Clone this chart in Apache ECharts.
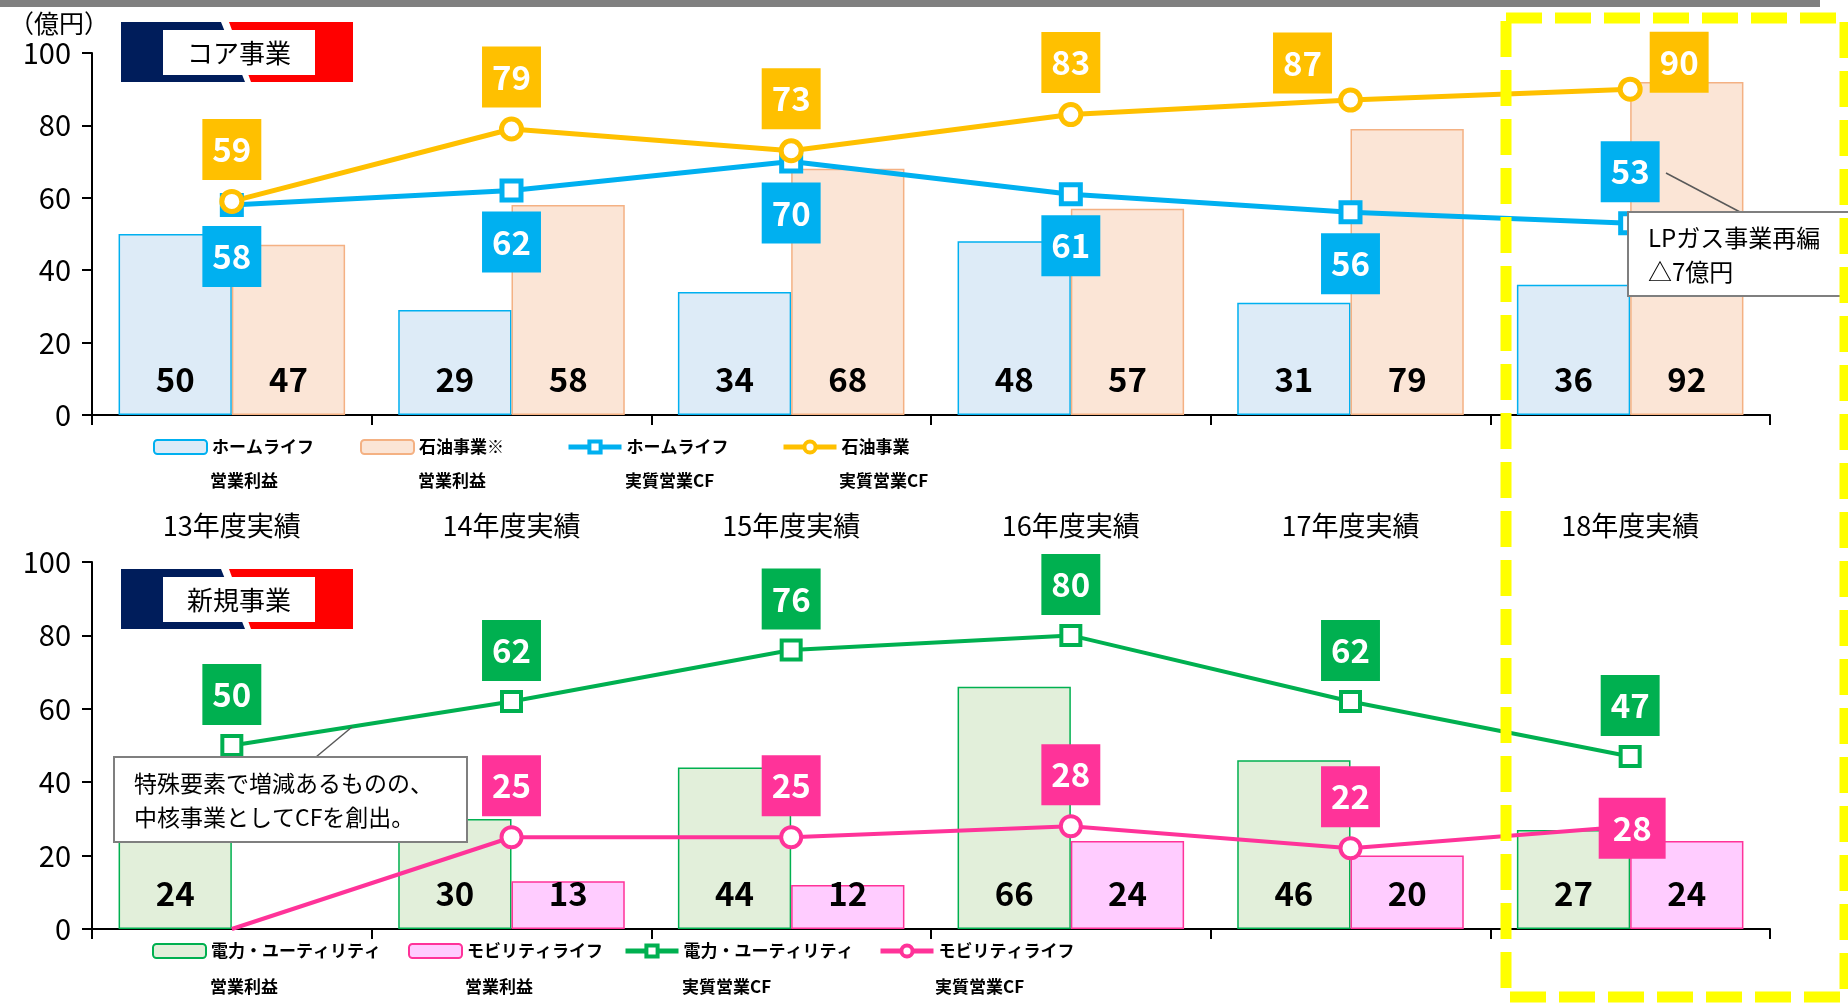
<!DOCTYPE html>
<html>
<head>
<meta charset="utf-8">
<script src="https://cdn.jsdelivr.net/npm/echarts@6/dist/echarts.min.js"></script>
<style>
html, body { margin: 0; padding: 0; background: #fff; }
#main { width: 1848px; height: 1005px; }
</style>
</head>
<body>
<div id="main"></div>
<script>
// data
var years = ['13年度実績', '14年度実績', '15年度実績', '16年度実績', '17年度実績', '18年度実績'];
var homeProfit = [50, 29, 34, 48, 31, 36];
var oilProfit = [47, 58, 68, 57, 79, 92];
var homeCF = [58, 62, 70, 61, 56, 53];
var oilCF = [59, 79, 73, 83, 87, 90];
var powerProfit = [24, 30, 44, 66, 46, 27];
var mobilityProfit = ['-', 13, 12, 24, 20, 24];
var powerCF = [50, 62, 76, 80, 62, 47];
var mobilityCF = [0, 25, 25, 28, 22, 28];
var yMin = 0, yMax = 100, yStep = 20;

var FONT = '"Noto Sans CJK JP", "Noto Sans", sans-serif';

var chart = echarts.init(document.getElementById('main'));

function boxLabel(bg, pos) {
  return {
    show: true,
    position: pos,
    distance: 9,
    backgroundColor: bg,
    color: '#fff',
    fontSize: 33,
    fontWeight: 'bold',
    fontFamily: FONT,
    lineHeight: 35,
    padding: [13, 10, 13, 10]
  };
}

function barLabel() {
  return {
    show: true,
    position: 'insideBottom',
    distance: 19,
    fontSize: 33,
    fontWeight: 'bold',
    color: '#000',
    fontFamily: FONT
  };
}

function xAx(idx, showLabel) {
  return {
    type: 'category',
    gridIndex: idx,
    data: years,
    axisLine: { lineStyle: { color: '#000', width: 2 } },
    axisTick: { show: true, length: 10, lineStyle: { color: '#000', width: 2 } },
    axisLabel: { show: showLabel, fontSize: 27, color: '#000', margin: 97, fontFamily: FONT }
  };
}

function yAx(idx) {
  return {
    type: 'value',
    gridIndex: idx,
    min: yMin,
    max: yMax,
    interval: yStep,
    splitLine: { show: false },
    axisLine: { show: true, lineStyle: { color: '#000', width: 2 } },
    axisTick: { show: true, length: 10, lineStyle: { color: '#000', width: 2 } },
    axisLabel: { fontSize: 29, color: '#000', margin: 21, fontFamily: FONT }
  };
}

function lg(name, left, top, isLine) {
  var l = {
    data: [name],
    left: left,
    top: top,
    padding: 0,
    itemWidth: 53,
    itemHeight: 14,
    selectedMode: false,
    formatter: function (n) { return n.split(' ')[0]; },
    textStyle: { fontSize: 17, fontWeight: 'bold', color: '#000', fontFamily: FONT, lineHeight: 20 }
  };
  if (isLine) {
    l.lineStyle = { width: 5 };
    l.itemStyle = { borderWidth: 4 };
  }
  return l;
}

function txt(s, x, y, size, weight) {
  return {
    type: 'text', z: 60,
    style: {
      text: s, x: x, y: y, fill: '#000',
      fontSize: size, fontWeight: weight || 'normal', fontFamily: FONT,
      textAlign: 'left', align: 'left', textVerticalAlign: 'middle', verticalAlign: 'middle',
      lineHeight: 34
    }
  };
}

function banner(y0, title) {
  return [
    { type: 'polygon', z: 5, shape: { points: [[121, y0], [221, y0], [245, y0 + 60], [121, y0 + 60]] }, style: { fill: '#001D5B' } },
    { type: 'polygon', z: 5, shape: { points: [[229, y0], [353, y0], [353, y0 + 60], [251, y0 + 60]] }, style: { fill: '#FF0000' } },
    { type: 'rect', z: 6, shape: { x: 163, y: y0 + 8, width: 152, height: 45 }, style: { fill: '#fff' } },
    {
      type: 'text', z: 7,
      style: {
        text: title, x: 239, y: y0 + 31, fill: '#000', fontSize: 26, fontFamily: FONT,
        textAlign: 'center', align: 'center', textVerticalAlign: 'middle', verticalAlign: 'middle'
      }
    }
  ];
}

var homeCFData = homeCF.map(function (v, i) {
  if (i === 5) return { value: v, label: boxLabel('#00B0F0', 'top') };
  return v;
});
var oilCFData = oilCF.map(function (v, i) {
  if (i === 4) return { value: v, label: { offset: [-48, 15] } };
  if (i === 5) return { value: v, label: { offset: [49, 25] } };
  return v;
});
var mobilityCFData = mobilityCF.map(function (v, i) {
  if (i === 0) return { value: v, symbol: 'none', label: { show: false } };
  if (i === 5) return { value: v, label: { position: 'inside', offset: [2, 2], padding: [13, 14, 13, 14] } };
  return v;
});

var graphics = [
  { type: 'rect', shape: { x: 0, y: 0, width: 1820, height: 7 }, style: { fill: '#808080' } },
  txt('（億円）', 9, 23, 25)
].concat(banner(22, 'コア事業'), banner(569, '新規事業'), [
  // top callout
  { type: 'line', z: 50, shape: { x1: 1666, y1: 173, x2: 1740, y2: 212 }, style: { stroke: '#595959', lineWidth: 1.5 } },
  { type: 'rect', z: 50, shape: { x: 1628, y: 212, width: 1000, height: 84 }, style: { fill: '#fff', stroke: '#7F7F7F', lineWidth: 2 } },
  txt('LPガス事業再編\n△7億円', 1648, 255, 24),
  // bottom callout
  { type: 'line', z: 50, shape: { x1: 316, y1: 757, x2: 352, y2: 727 }, style: { stroke: '#595959', lineWidth: 1.5 } },
  { type: 'rect', z: 50, shape: { x: 114, y: 757, width: 353, height: 85 }, style: { fill: '#fff', stroke: '#7F7F7F', lineWidth: 2 } },
  txt('特殊要素で増減あるものの、\n中核事業としてCFを創出。', 134, 800, 23),
  // legend second rows
  txt('営業利益', 210, 481, 17, 'bold'),
  txt('営業利益', 418, 481, 17, 'bold'),
  txt('実質営業CF', 625, 481, 17, 'bold'),
  txt('実質営業CF', 839, 481, 17, 'bold'),
  txt('営業利益', 210, 987, 17, 'bold'),
  txt('営業利益', 465, 987, 17, 'bold'),
  txt('実質営業CF', 682, 987, 17, 'bold'),
  txt('実質営業CF', 935, 987, 17, 'bold'),
  // yellow dashed frame
  { type: 'rect', z: 100, shape: { x: 1506, y: 18, width: 339, height: 979 },
    style: { fill: 'none', stroke: '#FFFF00', lineWidth: 11, lineDash: [36, 13] } }
]);

var option = {
  animation: false,
  textStyle: { fontFamily: FONT },
  grid: [
    { left: 92, top: 53, width: 1678, height: 362 },
    { left: 92, top: 562, width: 1678, height: 367 }
  ],
  xAxis: [xAx(0, true), xAx(1, false)],
  yAxis: [yAx(0), yAx(1)],
  legend: [
    lg('ホームライフ 営業利益', 153, 437),
    lg('石油事業※ 営業利益', 360, 437),
    lg('ホームライフ 実質営業CF', 566, 437, true),
    lg('石油事業 実質営業CF', 781, 437, true),
    lg('電力・ユーティリティ 営業利益', 152, 941),
    lg('モビリティライフ 営業利益', 408, 941),
    lg('電力・ユーティリティ 実質営業CF', 623, 941, true),
    lg('モビリティライフ 実質営業CF', 878, 941, true)
  ],
  graphic: graphics,
  series: [
    {
      name: 'ホームライフ 営業利益', type: 'bar', xAxisIndex: 0, yAxisIndex: 0,
      data: homeProfit, barGap: '0%', barCategoryGap: '19%',
      itemStyle: { color: '#DDEBF7', borderColor: '#00B0F0', borderWidth: 1.5 },
      label: barLabel()
    },
    {
      name: '石油事業※ 営業利益', type: 'bar', xAxisIndex: 0, yAxisIndex: 0,
      data: oilProfit, barGap: '0%', barCategoryGap: '19%',
      itemStyle: { color: '#FBE5D6', borderColor: '#F4B183', borderWidth: 1.5 },
      label: barLabel()
    },
    {
      name: 'ホームライフ 実質営業CF', type: 'line', xAxisIndex: 0, yAxisIndex: 0,
      data: homeCFData, symbol: 'rect', symbolSize: 19,
      lineStyle: { color: '#00B0F0', width: 5 },
      itemStyle: { color: '#fff', borderColor: '#00B0F0', borderWidth: 5 },
      label: boxLabel('#00B0F0', 'bottom')
    },
    {
      name: '石油事業 実質営業CF', type: 'line', xAxisIndex: 0, yAxisIndex: 0,
      data: oilCFData, symbol: 'circle', symbolSize: 20,
      lineStyle: { color: '#FFC000', width: 5 },
      itemStyle: { color: '#fff', borderColor: '#FFC000', borderWidth: 5 },
      label: boxLabel('#FFC000', 'top')
    },
    {
      name: '電力・ユーティリティ 営業利益', type: 'bar', xAxisIndex: 1, yAxisIndex: 1,
      data: powerProfit, barGap: '0%', barCategoryGap: '19%',
      itemStyle: { color: '#E2EFDA', borderColor: '#00B050', borderWidth: 1.5 },
      label: barLabel()
    },
    {
      name: 'モビリティライフ 営業利益', type: 'bar', xAxisIndex: 1, yAxisIndex: 1,
      data: mobilityProfit, barGap: '0%', barCategoryGap: '19%',
      itemStyle: { color: '#FFCCFF', borderColor: '#FF3399', borderWidth: 1.5 },
      label: barLabel()
    },
    {
      name: '電力・ユーティリティ 実質営業CF', type: 'line', xAxisIndex: 1, yAxisIndex: 1,
      data: powerCF, symbol: 'rect', symbolSize: 19,
      lineStyle: { color: '#00B050', width: 4 },
      itemStyle: { color: '#fff', borderColor: '#00B050', borderWidth: 4 },
      label: boxLabel('#00B050', 'top')
    },
    {
      name: 'モビリティライフ 実質営業CF', type: 'line', xAxisIndex: 1, yAxisIndex: 1,
      data: mobilityCFData, symbol: 'circle', symbolSize: 20,
      lineStyle: { color: '#FF3399', width: 4 },
      itemStyle: { color: '#fff', borderColor: '#FF3399', borderWidth: 4 },
      label: boxLabel('#FF3399', 'top')
    }
  ]
};

chart.setOption(option);
</script>
</body>
</html>
